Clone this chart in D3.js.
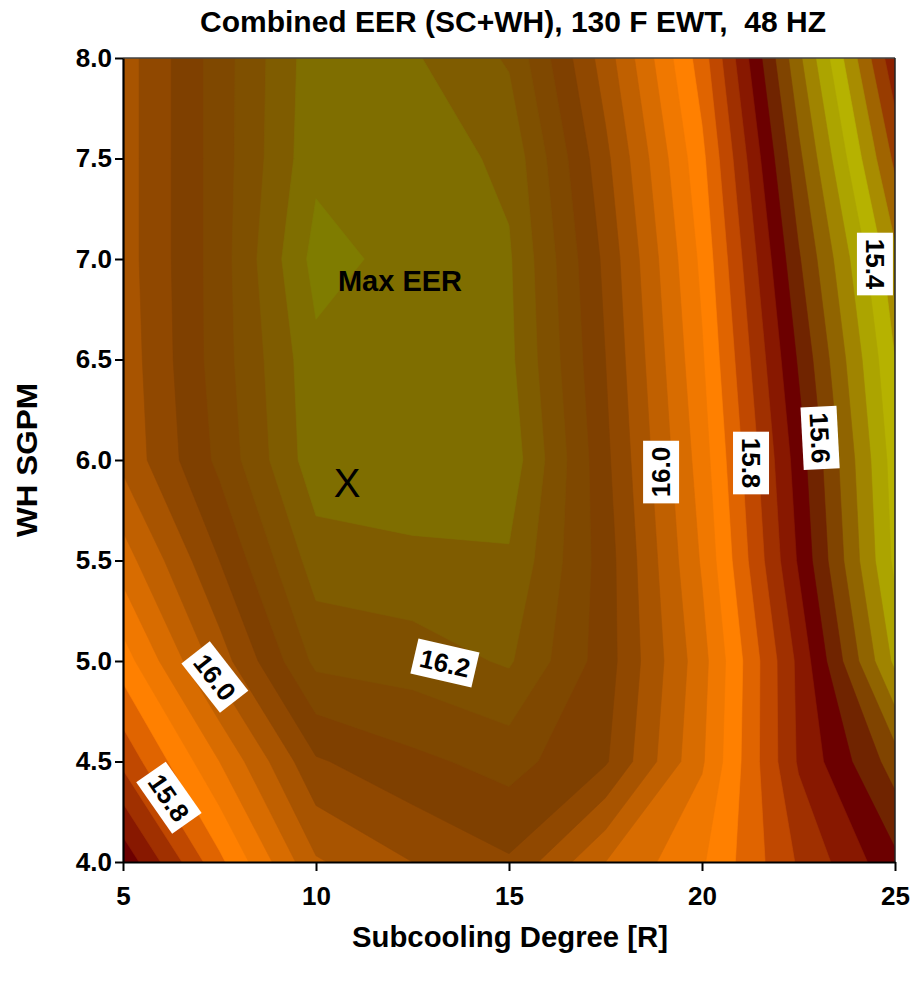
<!DOCTYPE html>
<html>
<head>
<meta charset="utf-8">
<script src="https://cdn.jsdelivr.net/npm/d3@7"></script>
<style>
  html, body { margin: 0; padding: 0; background: #ffffff; }
  svg { display: block; }
  text { font-family: "Liberation Sans", Arial, Helvetica, sans-serif; font-weight: bold; fill: #000; }
</style>
</head>
<body>
<svg id="chart" width="915" height="981"></svg>
<script>
// Subcooling degree [R] (columns) and water-heating flow [SGPM] (rows, top to bottom)
const subcooling = [5, 7.5, 10, 12.5, 15, 17.5, 20, 22.5, 25];
const flowRates = [8.0, 7.5, 7.0, 6.5, 6.0, 5.5, 5.0, 4.5, 4.0];

// Combined EER at each (flow, subcooling) grid node
const eer = [
  [16.020, 16.140, 16.265, 16.245, 16.195, 16.020, 15.820, 15.530, 15.250],
  [16.020, 16.140, 16.270, 16.265, 16.230, 16.050, 15.850, 15.570, 15.310],
  [16.020, 16.140, 16.295, 16.265, 16.245, 16.070, 15.870, 15.605, 15.370],
  [16.015, 16.140, 16.270, 16.270, 16.250, 16.080, 15.885, 15.635, 15.400],
  [16.010, 16.130, 16.265, 16.270, 16.265, 16.090, 15.900, 15.660, 15.420],
  [15.940, 16.080, 16.220, 16.230, 16.235, 16.100, 15.915, 15.675, 15.430],
  [15.860, 16.020, 16.170, 16.180, 16.205, 16.100, 15.935, 15.710, 15.470],
  [15.770, 15.920, 16.075, 16.110, 16.135, 16.085, 15.925, 15.715, 15.580],
  [15.650, 15.830, 15.995, 16.040, 16.075, 15.960, 15.885, 15.755, 15.650]
];

// Contour levels and the fill used above each level
const levels = [15.20, 15.24, 15.28, 15.32, 15.36, 15.40, 15.44, 15.48, 15.52, 15.56,
                15.60, 15.64, 15.68, 15.72, 15.76, 15.80, 15.84, 15.88, 15.92, 15.96,
                16.00, 16.04, 16.08, 16.12, 16.16, 16.20, 16.24, 16.28, 16.32];
const levelColors = ["#801000", "#8b2000", "#983c00", "#a06400", "#a88c00", "#b6b200", "#aca400", "#a08400", "#906400", "#804400",
                     "#702400", "#6c0000", "#881800", "#a03000", "#c04800", "#e06400", "#ff8000", "#f07800", "#d86c00", "#c06000",
                     "#a85400", "#904800", "#7f4000", "#7f4800", "#7f5000", "#7f5c00", "#7f6e00", "#7f7c00", "#808800"];

const xTicks = [5, 10, 15, 20, 25];
const yTicks = [4.0, 4.5, 5.0, 5.5, 6.0, 6.5, 7.0, 7.5, 8.0];

// In-line contour labels: value, position (data units), rotation
const contourLabels = [
  { text: "16.0", sc: 7.38,  gpm: 4.92, angle: 52 },
  { text: "15.8", sc: 6.19,  gpm: 4.32, angle: 55 },
  { text: "16.2", sc: 13.34, gpm: 4.99, angle: 13 },
  { text: "16.0", sc: 18.94, gpm: 5.94, angle: -90 },
  { text: "15.8", sc: 21.27, gpm: 5.985, angle: 90 },
  { text: "15.6", sc: 23.06, gpm: 6.11, angle: 87 },
  { text: "15.4", sc: 24.48, gpm: 6.975, angle: 90 }
];

const svg = d3.select("#chart");

const x = d3.scaleLinear().domain([5, 25]).range([123, 895]);
const y = d3.scaleLinear().domain([4, 8]).range([862, 58]);

// Filled contour bands
const nx = subcooling.length, ny = flowRates.length;
const contours = d3.contours().size([nx, ny]).thresholds(levels)(eer.flat());
const gridX = d3.scaleLinear().domain([0.5, nx - 0.5]).range([subcooling[0], subcooling[nx - 1]]);
const gridY = d3.scaleLinear().domain([0.5, ny - 0.5]).range([flowRates[0], flowRates[ny - 1]]);
const path = d3.geoPath(d3.geoTransform({
  point(px, py) { this.stream.point(x(gridX(px)), y(gridY(py))); }
}));

svg.append("clipPath").attr("id", "plot-clip")
  .append("rect")
  .attr("x", x(5)).attr("y", y(8))
  .attr("width", x(25) - x(5)).attr("height", y(4) - y(8));

const plot = svg.append("g").attr("clip-path", "url(#plot-clip)");
plot.append("rect")
  .attr("x", x(5)).attr("y", y(8))
  .attr("width", x(25) - x(5)).attr("height", y(4) - y(8))
  .attr("fill", levelColors[0]);
plot.selectAll("path.band")
  .data(contours)
  .join("path")
  .attr("class", "band")
  .attr("d", path)
  .attr("fill", (d, i) => levelColors[i])
  .attr("stroke", (d, i) => levelColors[i])
  .attr("stroke-width", 0.6);

// Frame
svg.append("line").attr("x1", x(5)).attr("x2", x(25)).attr("y1", y(8)).attr("y2", y(8))
  .attr("stroke", "#444").attr("stroke-width", 1.5);
svg.append("line").attr("x1", x(25)).attr("x2", x(25)).attr("y1", y(8)).attr("y2", y(4))
  .attr("stroke", "#222").attr("stroke-width", 1.5);

// Axes
const yAxis = svg.append("g")
  .attr("transform", `translate(${x(5)},0)`)
  .call(d3.axisLeft(y).tickValues(yTicks).tickFormat(d3.format(".1f")).tickSize(8).tickSizeOuter(0).tickPadding(3));
const xAxis = svg.append("g")
  .attr("transform", `translate(0,${y(4)})`)
  .call(d3.axisBottom(x).tickValues(xTicks).tickFormat(d3.format("d")).tickSize(9).tickSizeOuter(0).tickPadding(16));

[yAxis, xAxis].forEach(g => {
  g.select(".domain").attr("stroke", "#000").attr("stroke-width", 2.2);
  g.selectAll(".tick line").attr("stroke", "#000").attr("stroke-width", 2);
  g.selectAll(".tick text")
    .attr("font-family", "'Liberation Sans', Arial, sans-serif")
    .attr("font-weight", "bold")
    .attr("font-size", 26)
    .attr("fill", "#000");
});

// Titles
svg.append("text")
  .attr("x", 513).attr("y", 32)
  .attr("text-anchor", "middle")
  .attr("font-size", 29)
  .attr("xml:space", "preserve")
  .style("white-space", "pre")
  .attr("textLength", 626).attr("lengthAdjust", "spacingAndGlyphs")
  .text("Combined EER (SC+WH), 130 F EWT,  48 HZ");

svg.append("text")
  .attr("x", 510).attr("y", 947)
  .attr("text-anchor", "middle")
  .attr("font-size", 29)
  .attr("textLength", 316).attr("lengthAdjust", "spacingAndGlyphs")
  .text("Subcooling Degree [R]");

svg.append("text")
  .attr("transform", `translate(37,460) rotate(-90)`)
  .attr("text-anchor", "middle")
  .attr("font-size", 29)
  .attr("textLength", 154).attr("lengthAdjust", "spacingAndGlyphs")
  .text("WH SGPM");

// Annotations
svg.append("text")
  .attr("x", 400).attr("y", 291)
  .attr("text-anchor", "middle")
  .attr("font-size", 29)
  .text("Max EER");

svg.append("text")
  .attr("x", 347).attr("y", 497)
  .attr("text-anchor", "middle")
  .attr("font-size", 40)
  .style("font-weight", "normal")
  .text("X");

// Contour value labels on white boxes
const labelG = svg.append("g").attr("clip-path", "url(#plot-clip)");
contourLabels.forEach(l => {
  const g = labelG.append("g")
    .attr("transform", `translate(${x(l.sc)},${y(l.gpm)}) rotate(${l.angle})`);
  const t = g.append("text")
    .attr("text-anchor", "middle")
    .attr("dy", "0.36em")
    .attr("font-size", 26)
    .text(l.text);
  const w = t.node().getComputedTextLength();
  g.insert("rect", "text")
    .attr("x", -w / 2 - 6).attr("y", -18)
    .attr("width", w + 12).attr("height", 36)
    .attr("fill", "#fff");
});
</script>
</body>
</html>
